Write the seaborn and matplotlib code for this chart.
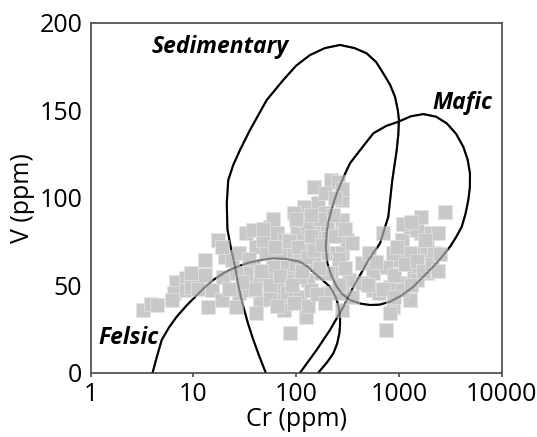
import matplotlib
matplotlib.use("Agg")
import matplotlib.pyplot as plt
import seaborn as sns
import pandas as pd
from matplotlib.ticker import FixedLocator, LogLocator, NullFormatter, NullLocator

# ---- scatter samples (Cr ppm, V ppm) ----
sample_cr = [3.2, 3.9, 4.4, 6.7, 6.5, 8.4, 8.4, 6.2, 9.5, 12.9, 17.5, 15, 13.9, 18.9, 20.4,
             19.6, 27.8, 25.7, 23.8, 32.4, 37.7, 40.7, 37.7, 39.2, 44, 40.7, 55.4, 64.6, 51.3,
             59.8, 64.6, 69.7, 75.3, 87.8, 94.8, 81.3, 75.3, 102, 110, 119, 119, 124, 129, 110,
             124, 87.8, 150, 162, 162, 150, 139, 189, 204, 175, 220, 257, 278, 257, 247, 220,
             204, 278, 324, 349, 311, 440, 553, 553, 646, 753, 813, 877, 813, 753, 1064, 1023,
             1105, 1288, 1288, 1390, 1622, 1750, 1890, 2042, 2382, 1503, 2775, 1890, 1288, 1064,
             47.5, 69.7, 81.3, 51.3, 32.4, 27.8, 204, 189, 278, 278, 440, 513, 697, 877, 1622,
             2203, 2042, 1503, 94.8, 129, 349, 110, 18.9, 9.5, 25.7, 34.9, 204, 278,
             35, 45, 55, 62, 70, 85, 90, 100, 105, 115, 130, 140, 150, 165, 180, 200, 230, 240,
             260, 300, 300, 280, 240, 170, 140, 100, 60, 48, 40, 55, 95, 130, 160, 190, 260,
             65, 30, 22, 13, 11,
             500, 600, 700, 900, 950, 1150, 1300, 1500, 1700, 2100, 2500, 2400, 1100, 1300, 1800, 900]
sample_v = [35.8, 39.2, 38.7, 52, 45.3, 53.9, 47.2, 41.5, 49.1, 64.4, 75.8, 47.2, 37.7, 41.5, 66.3,
            54.9, 45.3, 37.7, 64.4, 79.6, 81.5, 72, 60.6, 51, 41.5, 33.9, 83.4, 79.6, 68.2,
            60.6, 49.1, 41.5, 75.8, 68.2, 56.8, 45.3, 35.8, 79.6, 64.4, 94.9, 87.2, 72, 53, 43.4,
            32, 22.5, 106.3, 96.8, 79.6, 62.5, 47.2, 91, 68.2, 56.8, 110, 109, 98.7, 79.6, 68.2, 56.8,
            45.3, 35.8, 53, 43.4, 75.8, 62.5, 56.8, 47.2, 45.3, 60.6, 49.1, 37.7, 33.9, 24.4, 75.8, 64.4,
            51, 83.4, 68.2, 56.8, 79.6, 68.2, 56.8, 79.6, 79.6, 81.5, 92, 72, 41.5, 47.2,
            75.8, 68.2, 60.6, 53, 56.8, 68.2, 79.6, 102.5, 87.2, 68.2, 51, 68.2, 79.6, 68.2, 89,
            68.2, 60.6, 53, 91, 83.4, 73.9, 54.9, 72, 56.8, 56.8, 47.2, 56.8, 45.3,
            65, 58, 50, 72, 55, 75, 50, 62, 72, 58, 66, 78, 70, 60, 73, 85, 90, 78,
            65, 60, 82, 105, 100, 88, 90, 88, 88, 82, 48, 42, 40, 38, 45, 40, 50,
            38, 52, 48, 56, 48,
            50, 63, 48, 56, 72, 62, 50, 64, 58, 62, 68, 58, 85, 86, 76, 43]

# ---- field outlines (Cr ppm, V ppm) ----
sed_cr = [50.5, 44, 38.3, 34, 30.6, 27.5, 25.4, 23, 21.4, 21.1, 21.8, 24.5, 28.4, 35.5, 51.6,
          74.9, 100, 136, 190, 267, 370, 485, 600, 705, 820, 915, 975, 1000, 985, 951, 861,
          787, 654, 504, 430, 360, 288, 213, 158, 109]
sed_v = [0, 9, 18.7, 28, 37.7, 49, 60.6, 72, 82, 96.8, 110, 119, 127.3, 138.7, 155.8,
         167.3, 175.5, 181.5, 185.5, 187.3, 185.5, 182.5, 177.5, 171, 164.5, 157.7, 150, 144.4, 136, 127.3, 110,
         89.1, 73.9, 64.4, 57, 49.1, 37.7, 24.4, 13, 0]

fel_cr = [4.0, 4.4, 4.91, 5.8, 6.87, 8.6, 10.8, 13, 15.6, 19.5, 24.4, 34, 47.9, 60, 80, 109,
          130, 150, 180, 213, 235, 248, 260, 267, 267, 263, 250, 230, 200, 164]
fel_v = [0, 9, 18.7, 26, 32, 38.5, 44.4, 49, 53, 56.8, 59.7, 62.8, 64.6, 65.4, 65, 63.4,
         60.5, 57, 53, 49.1, 45, 41.5, 37, 32, 27, 22.5, 16.5, 11.1, 6, 0]

maf_cr = [986, 1300, 1727, 2300, 2917, 3600, 4227, 4650, 4911, 4900, 4730, 4450, 4083, 3600,
          3140, 2600, 2158, 1700, 1380, 1050, 818, 650, 523, 420, 334, 280, 248, 220, 201, 194,
          198, 205, 225, 248, 290, 334, 420, 563, 750, 986]
maf_v = [143.4, 146.5, 147.8, 146.3, 142.5, 136.5, 129.1, 122, 113.9, 106, 98.7, 91, 83.4, 77.5,
         72, 66, 60.6, 54.5, 49.1, 44, 40.6, 38.9, 38.7, 39.5, 41.5, 45, 49.1, 55.5, 62.5, 72,
         80, 86, 95, 102.5, 112, 119.7, 127.3, 136.8, 141, 143.4]

field_names = ["Sedimentary", "Mafic", "Felsic"]
label_cr = [18.2, 4170, 2.31]
label_v = [186.3, 153.9, 19.6]

x_ticks = [1, 10, 100, 1000, 10000]
x_tick_labels = ["1", "10", "100", "1000", "10000"]
y_ticks = [0, 50, 100, 150, 200]

sns.set_style("white")
plt.rcParams['font.family'] = ['Open Sans', 'DejaVu Sans']
plt.rcParams['text.color'] = 'black'
plt.rcParams['axes.labelcolor'] = 'black'

fig = plt.figure(figsize=(5.37, 4.37), dpi=100)
ax = fig.add_axes([0.1689, 0.1471, 0.9343 - 0.1689, 0.948 - 0.1471])

samples = pd.DataFrame({"Cr": sample_cr, "V": sample_v})
curves = [(sed_cr, sed_v), (maf_cr, maf_v), (fel_cr, fel_v)]

for cx, cy in curves:
    sns.lineplot(x=cx, y=cy, sort=False, estimator=None, color="black", lw=1.5, ax=ax, zorder=1)

sns.scatterplot(data=samples, x="Cr", y="V", marker="s", s=110, color="#c8c8c8",
                edgecolor="#e4e4e4", linewidth=0.5, ax=ax, zorder=2)

for cx, cy in curves:
    sns.lineplot(x=cx, y=cy, sort=False, estimator=None, color="black", lw=1.5, alpha=0.38,
                 ax=ax, zorder=3)

ax.set_xscale("log")
ax.set_xlim(1, 10000)
ax.set_ylim(0, 200)
ax.xaxis.set_major_locator(FixedLocator(x_ticks))
ax.set_xticklabels(x_tick_labels)
ax.xaxis.set_minor_locator(LogLocator(base=10, subs=range(2, 10)))
ax.xaxis.set_minor_formatter(NullFormatter())
ax.set_yticks(y_ticks)

tick_grey = "#555555"
for sp in ax.spines.values():
    sp.set_color(tick_grey)
    sp.set_linewidth(1.3)
    sp.set_visible(True)

ax.tick_params(axis="x", which="major", direction="in", length=9, width=1.3,
               color=tick_grey, labelcolor="black", labelsize=18, pad=7)
ax.tick_params(axis="x", which="minor", direction="in", length=3.5, width=1.1, color=tick_grey)
ax.tick_params(axis="y", which="major", direction="out", length=3, width=1.3,
               color=tick_grey, labelcolor="black", labelsize=18, pad=3)

# short outward stubs below the major x ticks
sec = ax.secondary_xaxis("bottom")
sec.xaxis.set_major_locator(FixedLocator(x_ticks))
sec.xaxis.set_minor_locator(NullLocator())
sec.tick_params(axis="x", which="major", direction="out", length=3, width=1.3,
                color=tick_grey, labelbottom=False)
sec.spines["bottom"].set_visible(False)

ax.set_xlabel("Cr (ppm)", fontsize=18, labelpad=0)
ax.set_ylabel("V (ppm)", fontsize=18, labelpad=3)

for name, lx, ly in zip(field_names, label_cr, label_v):
    ax.text(lx, ly, name, fontsize=16.5, fontweight="bold", fontstyle="italic",
            ha="center", va="center", zorder=4, color="black")

fig.savefig("out.png", dpi=100)
